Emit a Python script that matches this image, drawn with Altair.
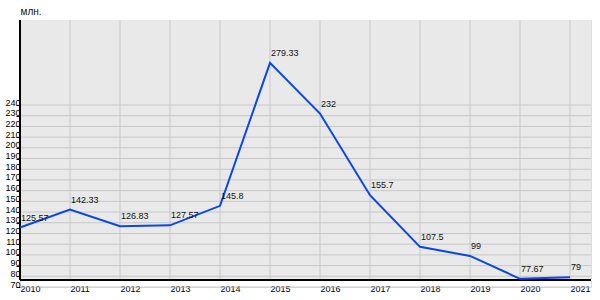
import altair as alt
import pandas as pd

years = [2010, 2011, 2012, 2013, 2014, 2015, 2016, 2017, 2018, 2019, 2020, 2021]
values = [125.57, 142.33, 126.83, 127.57, 145.8, 279.33, 232, 155.7, 107.5, 99, 77.67, 79]
labels = ["125.57", "142.33", "126.83", "127.57", "145.8", "279.33", "232", "155.7", "107.5", "99", "77.67", "79"]
y_ticks = list(range(70, 250, 10))
unit_title = "млн."

FONT = "Liberation Sans"
W, H = 571, 267
BG_BOTTOM = 260

df = pd.DataFrame({"year": years, "value": values, "label": labels})
grid_df = pd.DataFrame({"g": y_ticks})
one = pd.DataFrame({"k": [0]})

xscale = alt.Scale(domain=[2010, 2021.42], nice=False, zero=False)
yscale = alt.Scale(domain=[70, 319.4], nice=False, zero=False)

xaxis = alt.Axis(values=years, format="d", labelAlign="left", labelFontSize=9, labelFont=FONT,
                 labelColor="#000", domain=False, ticks=False, grid=False, labelPadding=-3,
                 title=None, labelFlush=False, labelOverlap=False)
yaxis = alt.Axis(values=y_ticks, labelFontSize=9, labelFont=FONT, labelColor="#000",
                 labelBaseline="alphabetic", domain=False, grid=False, ticks=True, tickSize=4,
                 tickColor="#000", labelPadding=-4, title=None, labelOverlap=False,
                 labelFlush=False)

bg = alt.Chart(one).mark_rect(fill="#e9e9e9").encode(
    x=alt.value(0), x2=alt.value(W), y=alt.value(0), y2=alt.value(BG_BOTTOM))

ygrid = alt.Chart(grid_df).mark_rule(color="#c8c8c8", strokeWidth=1).encode(
    y=alt.Y("g:Q", scale=yscale, axis=yaxis), x=alt.value(0), x2=alt.value(W))

xgrid = alt.Chart(df).mark_rule(color="#c8c8c8", strokeWidth=1).encode(
    x=alt.X("year:Q", scale=xscale, axis=xaxis), y=alt.value(0), y2=alt.value(BG_BOTTOM))

left_axis = alt.Chart(one).mark_rule(color="#000", strokeWidth=2).encode(
    x=alt.value(0), y=alt.value(0), y2=alt.value(BG_BOTTOM))
bottom_axis = alt.Chart(one).mark_rule(color="#000", strokeWidth=2).encode(
    y=alt.value(BG_BOTTOM), x=alt.value(0), x2=alt.value(W))

line = alt.Chart(df).mark_line(color="#0a47e6", strokeWidth=2).encode(
    x=alt.X("year:Q", scale=xscale, axis=xaxis), y=alt.Y("value:Q", scale=yscale, axis=yaxis))

text = alt.Chart(df).mark_text(align="left", baseline="alphabetic", dx=1, dy=-7,
                               fontSize=9, font=FONT, color="#111").encode(
    x=alt.X("year:Q", scale=xscale, axis=xaxis), y=alt.Y("value:Q", scale=yscale, axis=yaxis),
    text="label:N")

title = alt.Chart(one).mark_text(align="left", baseline="alphabetic", fontSize=10,
                                 font=FONT, color="#111").encode(
    x=alt.value(0.5), y=alt.value(-5), text=alt.value(unit_title))

chart = alt.layer(bg, ygrid, xgrid, left_axis, bottom_axis, line, text, title).properties(
    width=W, height=H,
    autosize=alt.AutoSizeParams(type="none"),
    padding={"left": 20, "top": 20, "right": 9, "bottom": 13},
).configure_view(stroke=None).configure(background="white")

chart.save("out.html", embed_options={"renderer": "svg", "actions": False})
